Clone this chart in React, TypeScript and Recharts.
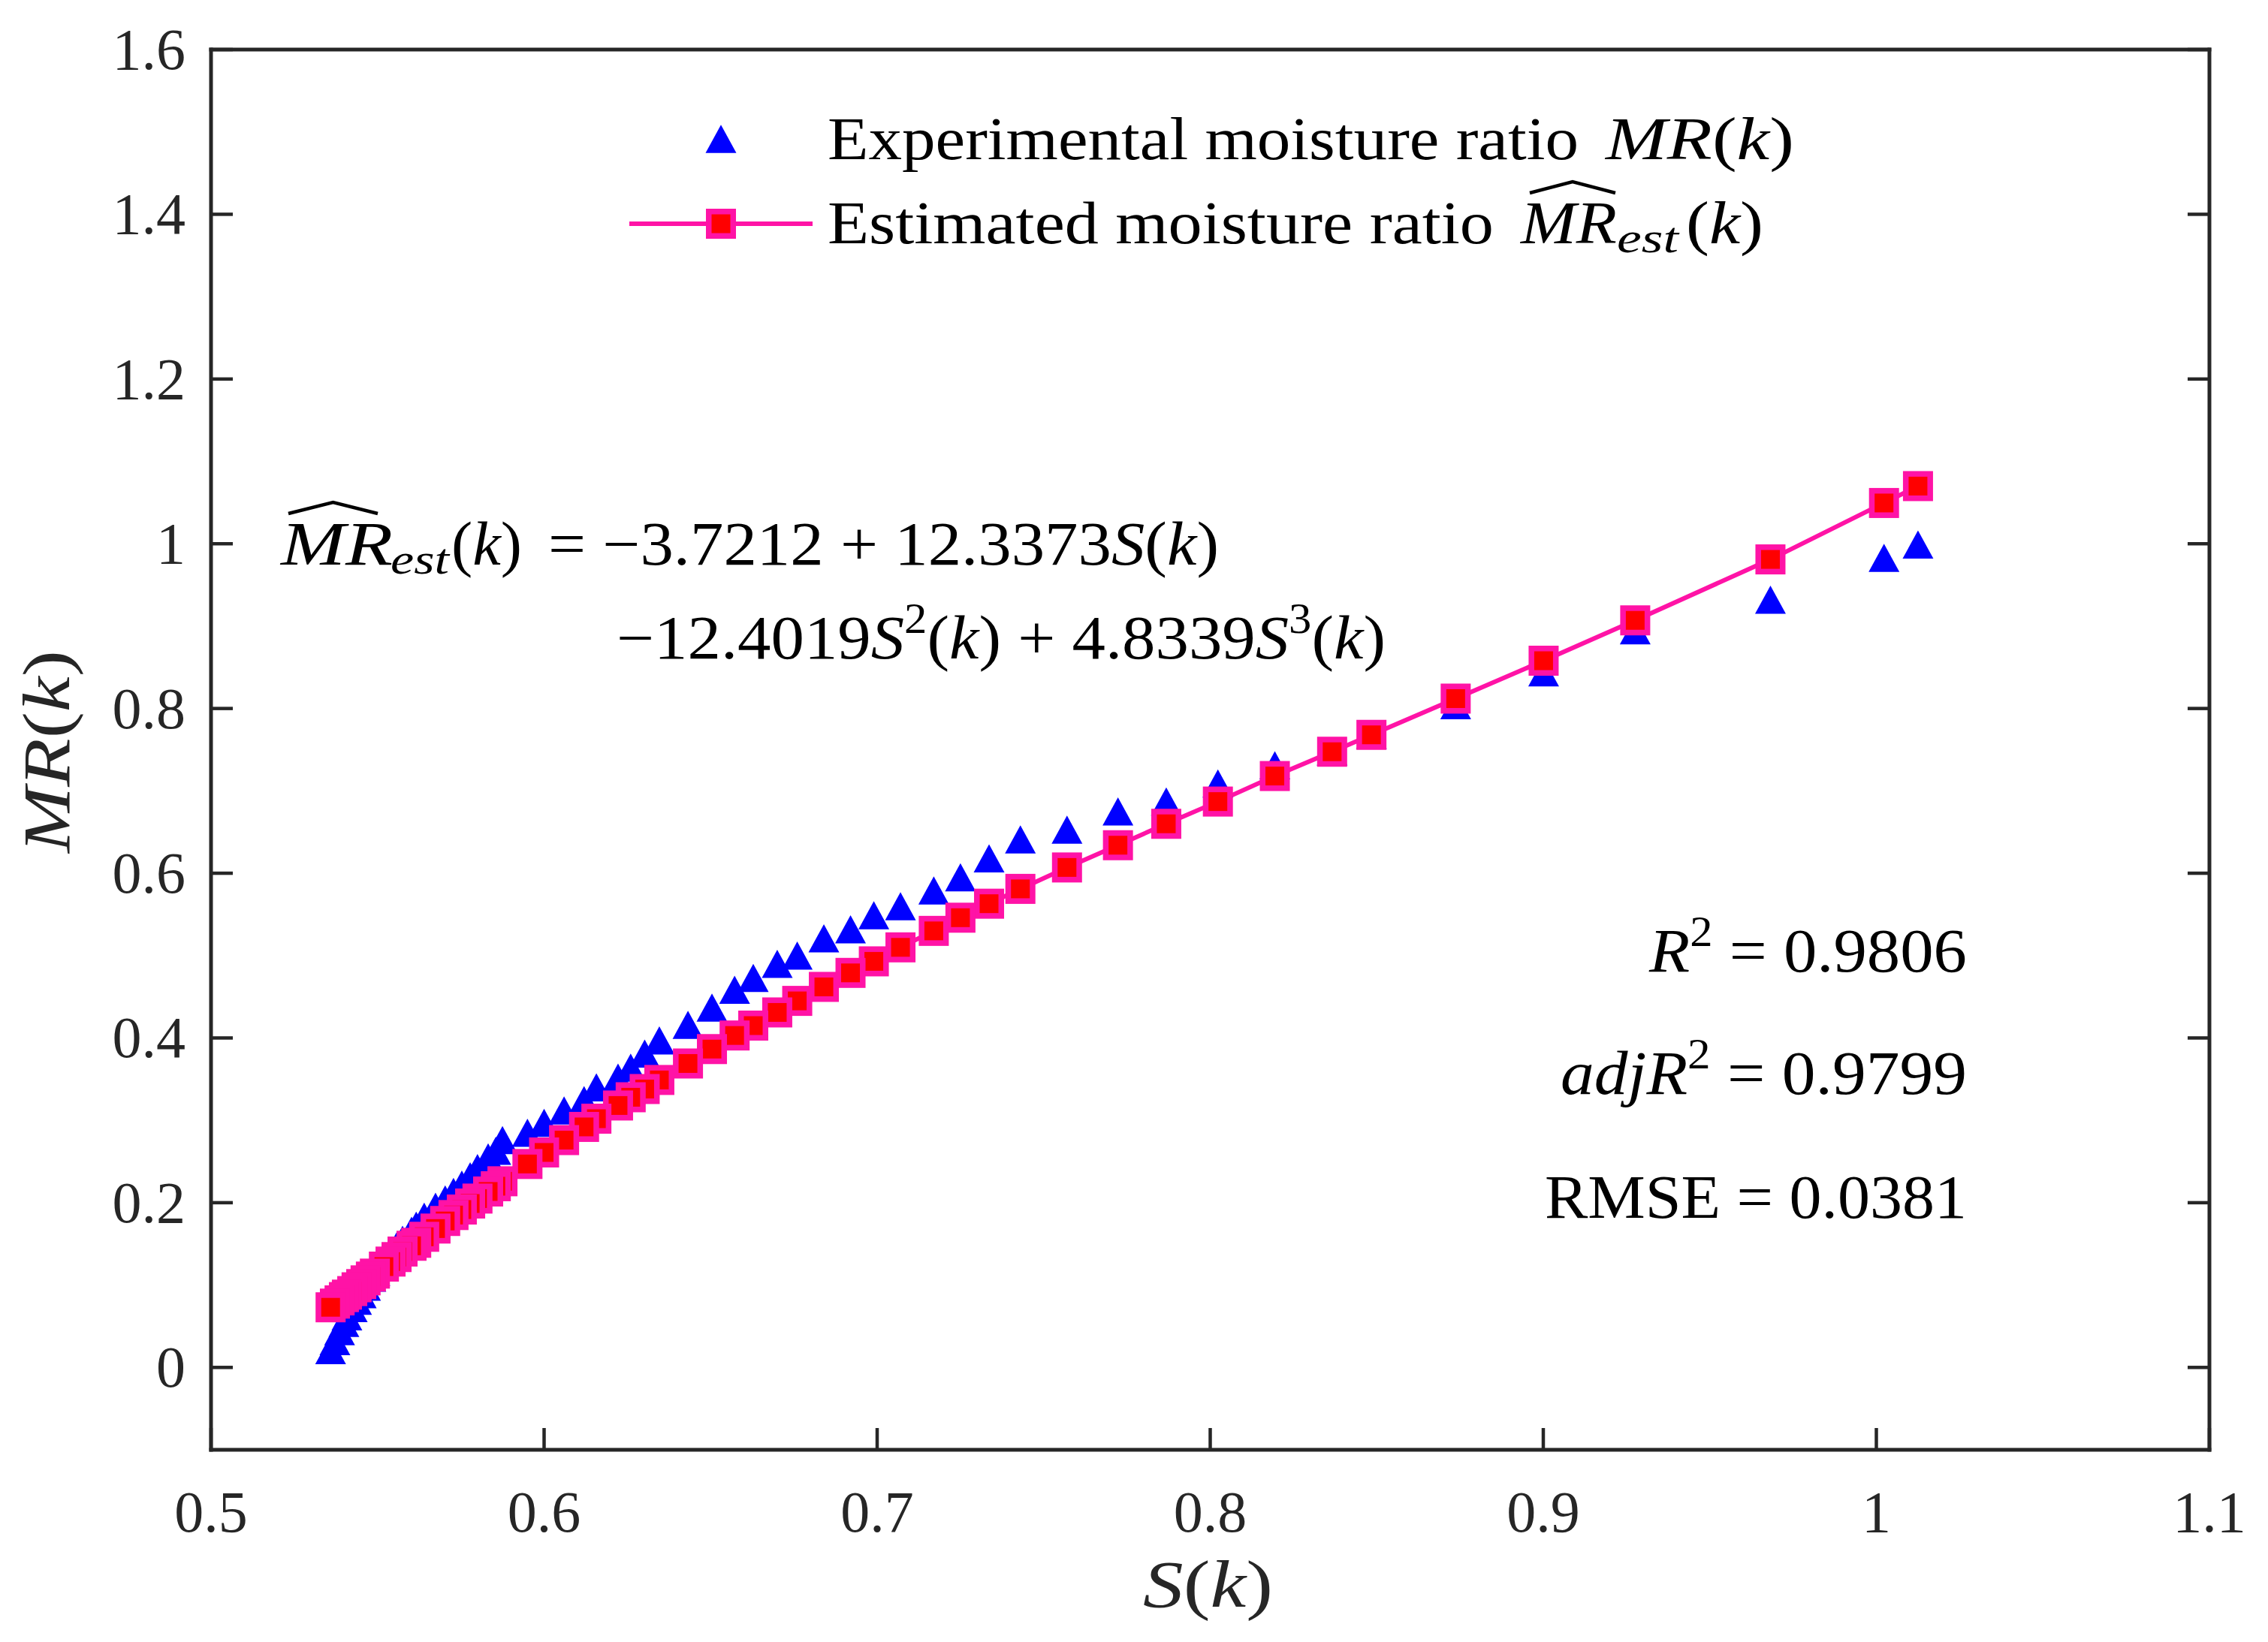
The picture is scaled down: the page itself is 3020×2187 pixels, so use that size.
import React from "react";
import { ComposedChart, Scatter, Line, XAxis, YAxis, Customized } from "recharts";

// S(k) values (highest first, so the low-S squares end up on top)
const S_VALUES = [
  1.0125, 1.0023, 0.9682, 0.9276, 0.9001, 0.8737, 0.8484, 0.8366, 0.8194, 0.8023, 0.7868, 0.7723,
  0.757, 0.743, 0.7336, 0.725, 0.717, 0.707, 0.699, 0.692, 0.684, 0.676, 0.67, 0.6628, 0.6572, 0.6504, 0.6432,
  0.6346, 0.6302, 0.626, 0.6222, 0.6157, 0.612, 0.606, 0.6, 0.595,
  0.5875, 0.5855, 0.5832, 0.58, 0.5778, 0.5753, 0.5728, 0.5703, 0.5674, 0.564, 0.5616, 0.5602, 0.5575,
  0.5557, 0.5539, 0.5519, 0.5492, 0.548, 0.5464, 0.5451, 0.5437, 0.5424, 0.5408, 0.5399, 0.5386, 0.5372, 0.5359,
];

// experimental moisture ratio MR(k)
const MR_EXP = [
  0.999, 0.983, 0.932, 0.895, 0.844, 0.804, 0.768, 0.748, 0.731, 0.709, 0.687, 0.675,
  0.653, 0.641, 0.618, 0.595, 0.579, 0.56, 0.549, 0.532, 0.521, 0.5, 0.49, 0.473, 0.4585, 0.437, 0.416,
  0.397, 0.381, 0.364, 0.352, 0.34, 0.3245, 0.312, 0.297, 0.285,
  0.276, 0.263, 0.255, 0.242, 0.232, 0.222, 0.213, 0.204, 0.195, 0.183, 0.172, 0.166, 0.155,
  0.147, 0.139, 0.128, 0.116, 0.109, 0.098, 0.089, 0.081, 0.072, 0.062, 0.054, 0.044, 0.032, 0.021,
];

// estimated moisture ratio
const MR_EST = [
  1.07, 1.0495, 0.981, 0.907, 0.858, 0.812, 0.768, 0.7475, 0.718, 0.687, 0.66, 0.634,
  0.607, 0.581, 0.563, 0.546, 0.53, 0.51, 0.493, 0.479, 0.462, 0.445, 0.431, 0.415, 0.403, 0.3865, 0.369,
  0.349, 0.338, 0.328, 0.318, 0.302, 0.292, 0.276, 0.261, 0.247,
  0.226, 0.22, 0.2136, 0.205, 0.199, 0.1917, 0.185, 0.1778, 0.1686, 0.1586, 0.1513, 0.1477, 0.1407,
  0.134, 0.1285, 0.1224, 0.1139, 0.1103, 0.1057, 0.1012, 0.0973, 0.0927, 0.0884, 0.0854, 0.0814, 0.0775, 0.073,
];

const X_TICKS = [0.5, 0.6, 0.7, 0.8, 0.9, 1, 1.1];
const Y_TICKS = [0, 0.2, 0.4, 0.6, 0.8, 1, 1.2, 1.4, 1.6];

const W = 3020;
const H = 2187;
const AXIS = "#262626";
const PINK = "#ff13a6";
const BLUE = "#0000ff";
const FONT = '"Liberation Serif", "Times New Roman", serif';
const TICK_LEN = 29;

const expData = S_VALUES.map((s, i) => ({ s, mr: MR_EXP[i] }));
const estData = S_VALUES.map((s, i) => ({ s, mr: MR_EST[i] }));

const triPoints = (cx: number, cy: number) =>
  `${cx},${cy - 18.75} ${cx + 20.5},${cy + 18.75} ${cx - 20.5},${cy + 18.75}`;

const Triangle = (p: any) => <polygon points={triPoints(p.cx, p.cy)} fill={BLUE} />;

const Square = ({ cx, cy, k }: { cx: number; cy: number; k?: any }) => (
  <rect key={k} x={cx - 16.25} y={cy - 16.25} width={32.5} height={32.5} fill="#ff0000" stroke={PINK} strokeWidth={7.5} />
);

const SquareDot = (p: any) => <Square key={p.index} k={p.index} cx={p.cx} cy={p.cy} />;

const LeftTick = ({ x, y, payload }: any) => (
  <g>
    <line x1={x} x2={x + TICK_LEN} y1={y} y2={y} stroke={AXIS} strokeWidth={4.5} />
    <text x={x - 34} y={y + 26} textAnchor="end" fontSize={78} fontFamily={FONT} fill={AXIS}>
      {payload.value}
    </text>
  </g>
);

const RightTick = ({ x, y }: any) => (
  <line x1={x} x2={x - TICK_LEN} y1={y} y2={y} stroke={AXIS} strokeWidth={4.5} />
);

const BottomTick = ({ x, y, payload }: any) => (
  <g>
    <line x1={x} x2={x} y1={y} y2={y - TICK_LEN} stroke={AXIS} strokeWidth={4.5} />
    <text x={x} y={y + 109} textAnchor="middle" fontSize={78} fontFamily={FONT} fill={AXIS}>
      {payload.value}
    </text>
  </g>
);

const TopTick = ({ x, y }: any) => (
  <line x1={x} x2={x} y1={y} y2={y + TICK_LEN} stroke={AXIS} strokeWidth={4.5} />
);

const hat = (x0: number, x1: number, yTop: number, yBot: number) => (
  <polyline
    points={`${x0},${yBot} ${(x0 + x1) / 2},${yTop} ${x1},${yBot}`}
    fill="none"
    stroke="#000"
    strokeWidth={4.5}
  />
);

const it = { fontStyle: "italic" as const };
const ADJ = "spacingAndGlyphs";

const Overlay = () => (
  <g fontFamily={FONT} fill="#000">
    {/* legend */}
    <polygon points={triPoints(960, 185)} fill={BLUE} />
    <line x1={838} x2={1082} y1={298} y2={298} stroke={PINK} strokeWidth={6} />
    <Square cx={960} cy={298} />
    <text x={1102} y={212} fontSize={81} textLength={1000} lengthAdjust={ADJ}>
      Experimental moisture ratio
    </text>
    <text x={2138} y={212} fontSize={81} textLength={251} lengthAdjust={ADJ}>
      <tspan {...it}>MR</tspan>(<tspan {...it}>k</tspan>)
    </text>
    <text x={1102} y={324} fontSize={81} textLength={887} lengthAdjust={ADJ}>
      Estimated moisture ratio
    </text>
    <text x={2025} y={324} fontSize={81} textLength={128} lengthAdjust={ADJ} {...it}>
      MR
    </text>
    <text x={2153} y={336} fontSize={58} textLength={82} lengthAdjust={ADJ} {...it}>
      est
    </text>
    <text x={2245} y={324} fontSize={81} textLength={103} lengthAdjust={ADJ}>
      (<tspan {...it}>k</tspan>)
    </text>
    {hat(2037, 2151, 242, 257)}

    {/* fitted equation */}
    <text x={374} y={752} fontSize={82} textLength={149} lengthAdjust={ADJ} {...it}>
      MR
    </text>
    <text x={520} y={764} fontSize={58} textLength={78} lengthAdjust={ADJ} {...it}>
      est
    </text>
    <text x={601} y={752} fontSize={82} textLength={94} lengthAdjust={ADJ}>
      (<tspan {...it}>k</tspan>)
    </text>
    {hat(384, 503, 669, 684)}
    <text x={730} y={752} fontSize={82} textLength={893} lengthAdjust={ADJ}>
      = −3.7212 + 12.3373<tspan {...it}>S</tspan>(<tspan {...it}>k</tspan>)
    </text>
    <text x={821} y={877} fontSize={82} textLength={1024} lengthAdjust={ADJ}>
      −12.4019<tspan {...it}>S</tspan>
      <tspan fontSize={56} dy={-34}>2</tspan>
      <tspan dy={34}>(</tspan>
      <tspan {...it}>k</tspan>) + 4.8339<tspan {...it}>S</tspan>
      <tspan fontSize={56} dy={-34}>3</tspan>
      <tspan dy={34}>(</tspan>
      <tspan {...it}>k</tspan>)
    </text>

    {/* goodness of fit */}
    <text x={2196} y={1294} fontSize={82} textLength={423} lengthAdjust={ADJ}>
      <tspan {...it}>R</tspan>
      <tspan fontSize={56} dy={-34}>2</tspan>
      <tspan dy={34}> = 0.9806</tspan>
    </text>
    <text x={2078} y={1457} fontSize={82} textLength={541} lengthAdjust={ADJ}>
      <tspan {...it}>adjR</tspan>
      <tspan fontSize={56} dy={-34}>2</tspan>
      <tspan dy={34}> = 0.9799</tspan>
    </text>
    <text x={2057} y={1622} fontSize={82} textLength={562} lengthAdjust={ADJ}>
      RMSE = 0.0381
    </text>

    {/* axis titles */}
    <text x={1522} y={2140} fontSize={88} textLength={173} lengthAdjust={ADJ} fill={AXIS}>
      <tspan {...it}>S</tspan>(<tspan {...it}>k</tspan>)
    </text>
    <text
      x={92}
      y={1001}
      fontSize={88}
      textAnchor="middle"
      textLength={270}
      lengthAdjust={ADJ}
      fill={AXIS}
      transform="rotate(-90 92 1001)"
    >
      <tspan {...it}>MR</tspan>(<tspan {...it}>k</tspan>)
    </text>
  </g>
);

const axisLine = { stroke: AXIS, strokeWidth: 5, strokeLinecap: "square" as const };

export default function App() {
  return (
    <div style={{ position: "absolute", left: 0, top: 0, width: W, height: H, background: "#fff" }}>
      <ComposedChart width={W} height={H} margin={{ top: 56, right: 68, bottom: 56, left: 81 }}>
        <XAxis
          type="number"
          dataKey="s"
          domain={[0.5, 1.1]}
          ticks={X_TICKS}
          interval={0}
          allowDataOverflow
          height={200}
          tickLine={false}
          tickSize={0}
          tickMargin={0}
          axisLine={axisLine}
          tick={BottomTick}
        />
        <XAxis
          xAxisId="top"
          orientation="top"
          type="number"
          domain={[0.5, 1.1]}
          ticks={X_TICKS}
          interval={0}
          allowDataOverflow
          height={10}
          tickLine={false}
          tickSize={0}
          tickMargin={0}
          axisLine={axisLine}
          tick={TopTick}
        />
        <YAxis
          type="number"
          dataKey="mr"
          domain={[-0.1, 1.6]}
          ticks={Y_TICKS}
          interval={0}
          allowDataOverflow
          width={200}
          tickLine={false}
          tickSize={0}
          tickMargin={0}
          axisLine={axisLine}
          tick={LeftTick}
        />
        <YAxis
          yAxisId="right"
          orientation="right"
          type="number"
          domain={[-0.1, 1.6]}
          ticks={Y_TICKS}
          interval={0}
          allowDataOverflow
          width={10}
          tickLine={false}
          tickSize={0}
          tickMargin={0}
          axisLine={axisLine}
          tick={RightTick}
        />
        <Scatter data={expData} dataKey="mr" shape={Triangle} isAnimationActive={false} />
        <Line
          data={estData}
          dataKey="mr"
          type="linear"
          stroke={PINK}
          strokeWidth={6}
          dot={SquareDot}
          activeDot={false}
          isAnimationActive={false}
        />
        <Customized component={Overlay} />
      </ComposedChart>
    </div>
  );
}
